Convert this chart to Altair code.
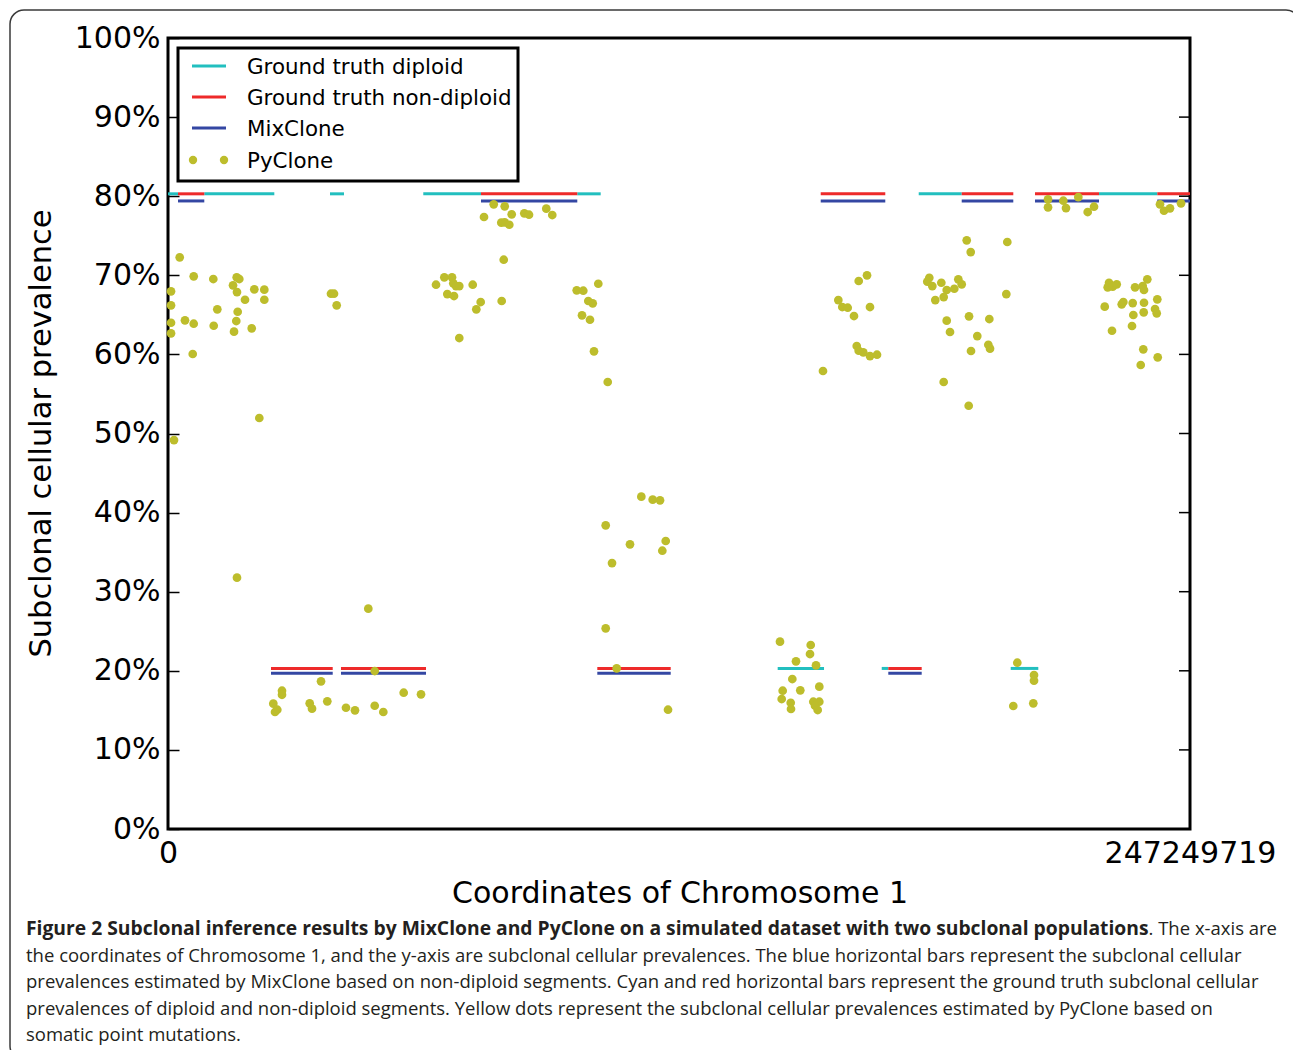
import altair as alt
import pandas as pd

MB = 1_000_000
CHROM_END = 247249719

series_names = ["Ground truth diploid", "Ground truth non-diploid", "MixClone", "PyClone"]
series_colors = ["#22BFBF", "#EE2A2A", "#3447A3", "#BDBD2C"]

# ---- segments (start / end in Mb, level in %) ----
diploid_start = [0.0, 8.78, 39.19, 61.76, 99.02, 181.62, 225.24, 147.50, 172.67, 203.87]
diploid_end = [2.42, 25.72, 42.58, 75.72, 104.68, 192.02, 239.34, 158.71, 174.26, 210.55]
diploid_level = [80.3, 80.3, 80.3, 80.3, 80.3, 80.3, 80.3, 20.3, 20.3, 20.3]

nondip_start = [2.42, 75.72, 157.91, 192.02, 209.75, 239.34, 24.92, 41.85, 103.86, 174.26]
nondip_end = [8.78, 99.02, 173.53, 204.50, 225.24, 247.249719, 39.85, 62.42, 121.62, 182.34]
nondip_level = [80.3, 80.3, 80.3, 80.3, 80.3, 80.3, 20.3, 20.3, 20.3, 20.3]

mix_start = [2.42, 75.72, 157.91, 192.02, 209.75, 239.34, 24.92, 41.85, 103.86, 174.26]
mix_end = [8.78, 99.02, 173.53, 204.50, 225.24, 247.249719, 39.85, 62.42, 121.62, 182.34]
mix_level = [79.4, 79.4, 79.4, 79.4, 79.4, 79.4, 19.7, 19.7, 19.7, 19.7]

# ---- PyClone points (position in Mb, prevalence in %) ----
pyclone_x = [
    2.83, 6.22, 10.96, 16.62, 17.25, 0.73, 15.73, 16.69, 20.88, 23.30,
    18.63, 23.30, 0.73, 11.93, 16.86, 4.11, 6.22, 11.06, 16.52, 0.73,
    20.25, 15.97, 0.73, 5.98, 22.09, 1.45, 16.69,
    39.43, 40.16, 40.81,
    64.84, 66.85, 68.71, 69.02, 69.68, 70.47, 67.57, 69.19, 73.72, 75.65, 74.59, 80.73, 70.47, 81.22,
    78.80, 81.46, 76.45, 83.15, 86.20, 87.34, 91.52, 92.97, 80.64, 81.46, 82.57,
    98.88, 100.47, 104.10, 101.68, 102.75, 100.16, 102.09, 103.06, 106.38,
    114.51, 117.26, 119.03, 105.89, 111.77, 120.41, 119.59, 107.42, 105.89, 108.55, 120.97,
    148.06, 155.49, 155.32, 151.93, 156.77, 151.04, 148.71, 152.97, 157.57, 148.47, 150.65, 150.72,
    156.12, 157.57, 156.53, 157.18,
    169.11, 167.10, 162.17, 163.13, 164.44, 165.96, 169.83, 166.62, 167.10, 168.21, 169.83, 171.53, 158.46,
    193.23, 194.20, 203.05, 184.18, 183.70, 184.91, 187.09, 188.39, 191.20, 192.02,
    190.23, 187.66, 185.63, 202.81, 188.39, 189.19, 193.79, 198.70, 195.79, 198.46,
    198.87, 194.27, 187.66, 193.71,
    212.90, 212.90, 216.60, 217.25, 220.23, 222.50, 224.03, 239.99, 240.96, 242.41, 245.08,
    236.92, 227.66, 227.34, 228.55, 229.52, 233.95, 235.81, 236.12, 239.34, 226.62,
    230.73, 231.12, 233.39, 236.12, 238.79, 239.20, 233.54, 236.05, 233.22, 228.38,
    235.95, 239.44, 235.33,
    205.47, 209.51, 209.51, 204.50, 209.34,
    48.46, 50.01, 37.02, 27.58, 27.58, 57.02, 61.21, 38.54, 25.48, 26.44, 25.89, 34.28, 34.84,
    43.06, 45.24, 50.01, 52.09,
]
pyclone_y = [
    72.27, 69.87, 69.53, 69.74, 69.53, 67.97, 68.73, 67.88, 68.23, 68.18,
    66.91, 66.91, 66.20, 65.70, 65.39, 64.31, 63.88, 63.62, 64.22, 64.00,
    63.30, 62.87, 62.66, 60.05, 51.96, 49.17, 31.77,
    67.67, 67.67, 66.20,
    68.81, 69.74, 69.74, 68.98, 68.64, 68.64, 67.63, 67.38, 68.81, 66.62, 65.70, 66.75, 62.07, 71.97,
    78.97, 78.72, 77.37, 77.71, 77.83, 77.66, 78.42, 77.62, 76.65, 76.70, 76.39,
    68.10, 68.05, 68.93, 66.75, 66.46, 64.94, 64.38, 60.39, 56.51,
    42.01, 41.63, 41.55, 38.39, 35.99, 36.41, 35.18, 33.62, 25.37, 20.31, 15.08,
    23.68, 23.26, 22.12, 21.20, 20.69, 18.96, 17.48, 17.53, 17.99, 16.43, 15.96, 15.17,
    16.09, 16.09, 15.58, 15.04,
    70.00, 69.28, 66.87, 65.99, 65.90, 64.85, 65.99, 61.06, 60.46, 60.26, 59.79, 59.96, 57.90,
    74.42, 72.94, 74.21, 69.69, 69.19, 68.64, 69.06, 68.14, 69.49, 68.86,
    68.30, 67.25, 66.87, 67.63, 64.26, 62.83, 64.81, 64.47, 62.32, 61.22,
    60.72, 60.43, 56.51, 53.51,
    79.60, 78.59, 79.43, 78.50, 79.89, 78.00, 78.67, 78.97, 78.16, 78.47, 79.10,
    69.49, 69.06, 68.48, 68.56, 68.86, 68.48, 68.64, 68.14, 66.96, 66.03,
    66.33, 66.62, 66.49, 66.53, 65.74, 65.19, 64.98, 65.32, 63.59, 62.99,
    60.64, 59.63, 58.66,
    21.02, 19.47, 18.75, 15.55, 15.89,
    27.85, 19.97, 18.67, 17.48, 16.97, 17.23, 17.03, 16.14, 15.84, 15.08, 14.79, 15.89, 15.21,
    15.33, 15.00, 15.58, 14.79,
]

y_tick_values = [0, 10, 20, 30, 40, 50, 60, 70, 80, 90, 100]
x_tick_values = [0, CHROM_END]

y_title = "Subclonal cellular prevalence"
x_title = "Coordinates of Chromosome 1"
caption_bold = ("Figure 2 Subclonal inference results by MixClone and PyClone on a simulated "
                "dataset with two subclonal populations")
caption_first_rest = ". The x-axis are"
caption_lines = [
    "the coordinates of Chromosome 1, and the y-axis are subclonal cellular prevalences. "
    "The blue horizontal bars represent the subclonal cellular",
    "prevalences estimated by MixClone based on non-diploid segments. Cyan and red horizontal "
    "bars represent the ground truth subclonal cellular",
    "prevalences of diploid and non-diploid segments. Yellow dots represent the subclonal "
    "cellular prevalences estimated by PyClone based on",
    "somatic point mutations.",
]

# ---------------- build tables ----------------
def seg_df(starts, ends, levels, name):
    return pd.DataFrame({
        "start": [s * MB for s in starts],
        "end": [e * MB for e in ends],
        "level": levels,
        "series": name,
    })

dip_df = seg_df(diploid_start, diploid_end, diploid_level, series_names[0])
nondip_df = seg_df(nondip_start, nondip_end, nondip_level, series_names[1])
mix_df = seg_df(mix_start, mix_end, mix_level, series_names[2])
py_df = pd.DataFrame({"pos": [v * MB for v in pyclone_x], "prev": pyclone_y, "series": series_names[3]})
tick_df = pd.DataFrame({"tick": y_tick_values[1:-1]})

W, H = 1022, 791
OX, OY = 168, 38  # page position of the plot origin

x_scale = alt.Scale(domain=[0, CHROM_END], nice=False, zero=False)
y_scale = alt.Scale(domain=[0, 100], nice=False)
x_axis = alt.Axis(values=x_tick_values, format="d", labelFlush=False, ticks=False, domain=False,
                  grid=False, title=None, labelPadding=9, labelFontSize=30)
y_axis = alt.Axis(values=y_tick_values, labelExpr="datum.value + '%'", ticks=True, tickSize=11,
                  offset=-11, domain=False, grid=False, title=None, labelPadding=8, labelFontSize=30)
color_scale = alt.Scale(domain=series_names, range=series_colors)


def seg_layer(df):
    return alt.Chart(df).mark_rule(strokeWidth=3).encode(
        x=alt.X("start:Q", scale=x_scale, axis=x_axis),
        x2="end:Q",
        y=alt.Y("level:Q", scale=y_scale, axis=y_axis),
        color=alt.Color("series:N", scale=color_scale, legend=None),
    )

dip_layer = seg_layer(dip_df)
nondip_layer = seg_layer(nondip_df)
mix_layer = seg_layer(mix_df)

py_layer = alt.Chart(py_df).mark_circle(size=76, opacity=1).encode(
    x=alt.X("pos:Q", scale=x_scale, axis=x_axis),
    y=alt.Y("prev:Q", scale=y_scale, axis=y_axis),
    color=alt.Color("series:N", scale=color_scale, legend=None),
)

right_ticks = alt.Chart(tick_df).mark_rule(color="black", strokeWidth=1.5).encode(
    x=alt.value(W - 11), x2=alt.value(W),
    y=alt.Y("tick:Q", scale=y_scale, axis=y_axis),
)

# ---------------- legend (drawn as a boxed key) ----------------
LEG_ROW_Y = [66, 97, 128, 160]
legend_layers = [
    alt.Chart(pd.DataFrame({"k": [0]})).mark_rect(
        fill="white", stroke="black", strokeWidth=3
    ).encode(x=alt.value(178 - OX), x2=alt.value(518 - OX), y=alt.value(48 - OY), y2=alt.value(181 - OY))
]
for i, name in enumerate(series_names):
    ry = LEG_ROW_Y[i] - OY
    row_df = pd.DataFrame({"series": [name]})
    if i < 3:
        legend_layers.append(
            alt.Chart(row_df).mark_rule(strokeWidth=3).encode(
                x=alt.value(192 - OX), x2=alt.value(226 - OX), y=alt.value(ry),
                color=alt.Color("series:N", scale=color_scale, legend=None),
            )
        )
    else:
        for dx in (193, 224):
            legend_layers.append(
                alt.Chart(row_df).mark_circle(size=70, opacity=1).encode(
                    x=alt.value(dx - OX), y=alt.value(ry),
                    color=alt.Color("series:N", scale=color_scale, legend=None),
                )
            )
    legend_layers.append(
        alt.Chart(row_df).mark_text(
            font="DejaVu Sans", fontSize=21.4, align="left", baseline="middle", color="black"
        ).encode(x=alt.value(247 - OX), y=alt.value(ry + 2), text="series:N")
    )

# ---------------- axis titles ----------------
ytitle_layer = alt.Chart(pd.DataFrame({"t": [y_title]})).mark_text(
    font="DejaVu Sans", fontSize=30.5, angle=270, align="center", baseline="middle", color="black"
).encode(x=alt.value(42 - OX), y=alt.value(433.5 - OY), text="t:N")

xtitle_layer = alt.Chart(pd.DataFrame({"t": [x_title]})).mark_text(
    font="DejaVu Sans", fontSize=30, align="center", baseline="middle", color="black"
).encode(x=alt.value(680 - OX), y=alt.value(894 - OY), text="t:N")

# ---------------- caption ----------------
CAP_X = 26 - OX
CAP_Y0 = 929 - OY
CAP_DY = 26.5
CAP_FONT = "Open Sans"
CAP_SIZE = 18.5
CAP_COLOR = "#231F20"

cap_layers = [
    alt.Chart(pd.DataFrame({"t": [caption_bold]})).mark_text(
        font=CAP_FONT, fontSize=19.3, fontWeight="bold", align="left", baseline="middle",
        color=CAP_COLOR
    ).encode(x=alt.value(CAP_X), y=alt.value(CAP_Y0), text="t:N"),
    alt.Chart(pd.DataFrame({"t": [caption_first_rest]})).mark_text(
        font=CAP_FONT, fontSize=CAP_SIZE, align="right", baseline="middle", color=CAP_COLOR
    ).encode(x=alt.value(1277 - OX), y=alt.value(CAP_Y0), text="t:N"),
]
for i, line in enumerate(caption_lines):
    cap_layers.append(
        alt.Chart(pd.DataFrame({"t": [line]})).mark_text(
            font=CAP_FONT, fontSize=CAP_SIZE, align="left", baseline="middle", color=CAP_COLOR
        ).encode(x=alt.value(CAP_X), y=alt.value(CAP_Y0 + CAP_DY * (i + 1)), text="t:N")
    )

frame_layer = alt.Chart(pd.DataFrame({"k": [0]})).mark_rect(
    fillOpacity=0, stroke="#3a3a3a", strokeWidth=1.5, cornerRadius=14
).encode(x=alt.value(10 - OX), x2=alt.value(1300 - OX), y=alt.value(10 - OY), y2=alt.value(1060 - OY))

chart = alt.layer(
    frame_layer, dip_layer, nondip_layer, mix_layer, right_ticks, py_layer,
    *legend_layers, ytitle_layer, xtitle_layer, *cap_layers
).properties(
    width=W, height=H,
    autosize=alt.AutoSizeParams(type="none"),
    padding={"left": OX, "top": OY, "right": 1293 - OX - W, "bottom": 1050 - OY - H},
    background="white",
).configure_view(
    stroke="black", strokeWidth=3, fill=None
).configure_axis(
    labelFont="DejaVu Sans", labelColor="black", tickColor="black", tickWidth=1.5
)

chart.save("out.html", embed_options={"renderer": "svg", "actions": False})
